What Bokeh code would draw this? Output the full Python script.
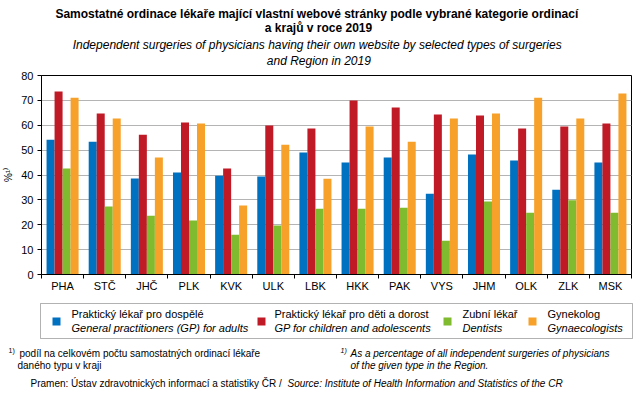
from bokeh.plotting import figure
from bokeh.models import Label, BoxAnnotation, FixedTicker, Range1d, ColumnDataSource
from bokeh.embed import file_html
from bokeh.resources import INLINE

regions = ["PHA", "STČ", "JHČ", "PLK", "KVK", "ULK", "LBK", "HKK", "PAK", "VYS", "JHM", "OLK", "ZLK", "MSK"]
gp_adults = [54.2, 53.4, 38.6, 41.0, 39.7, 39.4, 49.0, 45.0, 47.0, 32.5, 48.2, 45.8, 34.1, 45.0]
gp_children = [73.6, 64.7, 56.2, 61.1, 42.6, 59.9, 58.7, 69.9, 67.1, 64.3, 63.9, 58.7, 59.5, 60.7]
dentists = [42.6, 27.3, 23.6, 21.7, 16.0, 19.7, 26.4, 26.4, 26.8, 13.6, 29.3, 24.8, 29.8, 24.8]
gynaecologists = [71.1, 62.7, 47.0, 60.7, 27.7, 52.2, 38.5, 59.5, 53.4, 62.7, 64.7, 71.1, 62.7, 72.8]

series = [gp_adults, gp_children, dentists, gynaecologists]
colors = ["#0070C0", "#C01A26", "#80BA2E", "#F7A12A"]
names_cz = ["Praktický lékař pro dospělé", "Praktický lékař pro děti a dorost", "Zubní lékař", "Gynekolog"]
names_en = ["General practitioners (GP) for adults", "GP for children and adolescents", "Dentists", "Gynaecologists"]
yticks = [0, 10, 20, 30, 40, 50, 60, 70, 80]

W = 643
TOP_H, MID_H, BOT_H = 70, 230, 97
FONT = "Liberation Sans"


def text_panel(h, y0):
    """A blank figure whose frame fills it; positions are given in page pixels."""
    f = figure(width=W, height=h, output_backend="svg", toolbar_location=None,
               x_range=Range1d(0, W), y_range=Range1d(y0 + h, y0),
               min_border_left=0, min_border_right=0, min_border_top=0, min_border_bottom=0,
               x_axis_location=None, y_axis_location=None)
    f.xgrid.visible = False
    f.ygrid.visible = False
    f.outline_line_color = None
    return f


def lab(f, px, py, text, size="12px", style="normal", align="left"):
    f.add_layout(Label(x=px, y=py, text=text, text_font=FONT, text_font_size=size,
                       text_font_style=style, text_align=align, text_baseline="middle",
                       text_color="black"))


# ---- title panel
top = text_panel(TOP_H, 0)
lab(top, 318, 13, "Samostatné ordinace lékaře mající vlastní webové stránky  podle vybrané kategorie ordinací", "12px", "bold", "center")
lab(top, 318, 27, "a krajů v roce 2019", "12px", "bold", "center")
lab(top, 320, 44, "Independent  surgeries of physicians having  their own website by selected types of surgeries", "12px", "italic", "center")
lab(top, 320, 60, "and Region  in 2019", "12px", "italic", "center")

# ---- chart
FL, FR = 41, 631
p = figure(width=W, height=MID_H, output_backend="svg", toolbar_location=None,
           x_range=Range1d(0, len(regions)), y_range=Range1d(0, 80),
           min_border_left=FL, min_border_right=W - FR, min_border_top=5, min_border_bottom=26)
p.outline_line_color = "black"
p.outline_line_width = 1

centers = [i + 0.5 for i in range(len(regions))]
bw = 0.19
offsets = [-1.5 * bw, -0.5 * bw, 0.5 * bw, 1.5 * bw]
for vals, col, off in zip(series, colors, offsets):
    src = ColumnDataSource(dict(x=[c + off for c in centers], top=vals))
    p.vbar(x="x", top="top", width=bw, bottom=0, source=src, fill_color=col, line_color=None)

xa = p.xaxis[0]
xa.ticker = FixedTicker(ticks=centers, minor_ticks=list(range(len(regions) + 1)))
xa.major_label_overrides = {c: r for c, r in zip(centers, regions)}
xa.major_tick_out = 0
xa.major_tick_in = 0
xa.minor_tick_out = 4
xa.minor_tick_in = 0
xa.minor_tick_line_color = "black"
xa.axis_line_color = "black"
xa.major_label_text_font = FONT
xa.major_label_text_font_size = "11px"
xa.major_label_text_color = "black"
xa.major_label_standoff = 1

ya = p.yaxis[0]
ya.ticker = FixedTicker(ticks=yticks)
ya.major_tick_out = 4
ya.major_tick_in = 0
ya.minor_tick_line_color = None
ya.axis_line_color = "black"
ya.major_label_text_font = FONT
ya.major_label_text_font_size = "11px"
ya.major_label_text_color = "black"
ya.major_label_standoff = 4
ya.axis_label = "%¹⁾"
ya.axis_label_text_font = FONT
ya.axis_label_text_font_size = "10px"
ya.axis_label_text_font_style = "normal"
ya.axis_label_text_color = "black"
ya.axis_label_standoff = 4

p.xgrid.grid_line_color = None
p.ygrid.ticker = FixedTicker(ticks=yticks)
p.ygrid.grid_line_color = "#B4B4B4"
p.ygrid.grid_line_width = 1

# ---- legend and footnotes panel
y0 = TOP_H + MID_H
bot = text_panel(BOT_H, y0)
bot.add_layout(BoxAnnotation(left=40, right=632, top=303, bottom=338, fill_color=None, fill_alpha=0,
                             line_color="black", line_width=1))
mx = [52, 257, 443, 528]
tx = [71, 274, 462, 547]
for m, t, col, cz, en in zip(mx, tx, colors, names_cz, names_en):
    bot.add_layout(BoxAnnotation(left=m, right=m + 8, top=317, bottom=325,
                                 fill_color=col, fill_alpha=1, line_color=None))
    lab(bot, t, 313, cz, "11px")
    lab(bot, t, 327, en, "11px", "italic")

lab(bot, 8, 350, "1)", "7px")
lab(bot, 19, 353, "podíl na celkovém počtu samostatných ordinací lékaře", "10px")
lab(bot, 17, 365, "daného typu v kraji", "10px")
lab(bot, 340, 350, "1)", "7px", "italic")
lab(bot, 350, 353, "As a percentage of all independent surgeries of physicians", "10px", "italic")
lab(bot, 350, 365, "of the given type in the Region.", "10px", "italic")
lab(bot, 284, 383, "Pramen:  Ústav zdravotnických informací a statistiky ČR /", "10px", "normal", "right")
lab(bot, 287, 383, "Source: Institute of Health Information and Statistics of the CR", "10px", "italic")

open("out.html", "w").write(file_html([top, p, bot], INLINE))
